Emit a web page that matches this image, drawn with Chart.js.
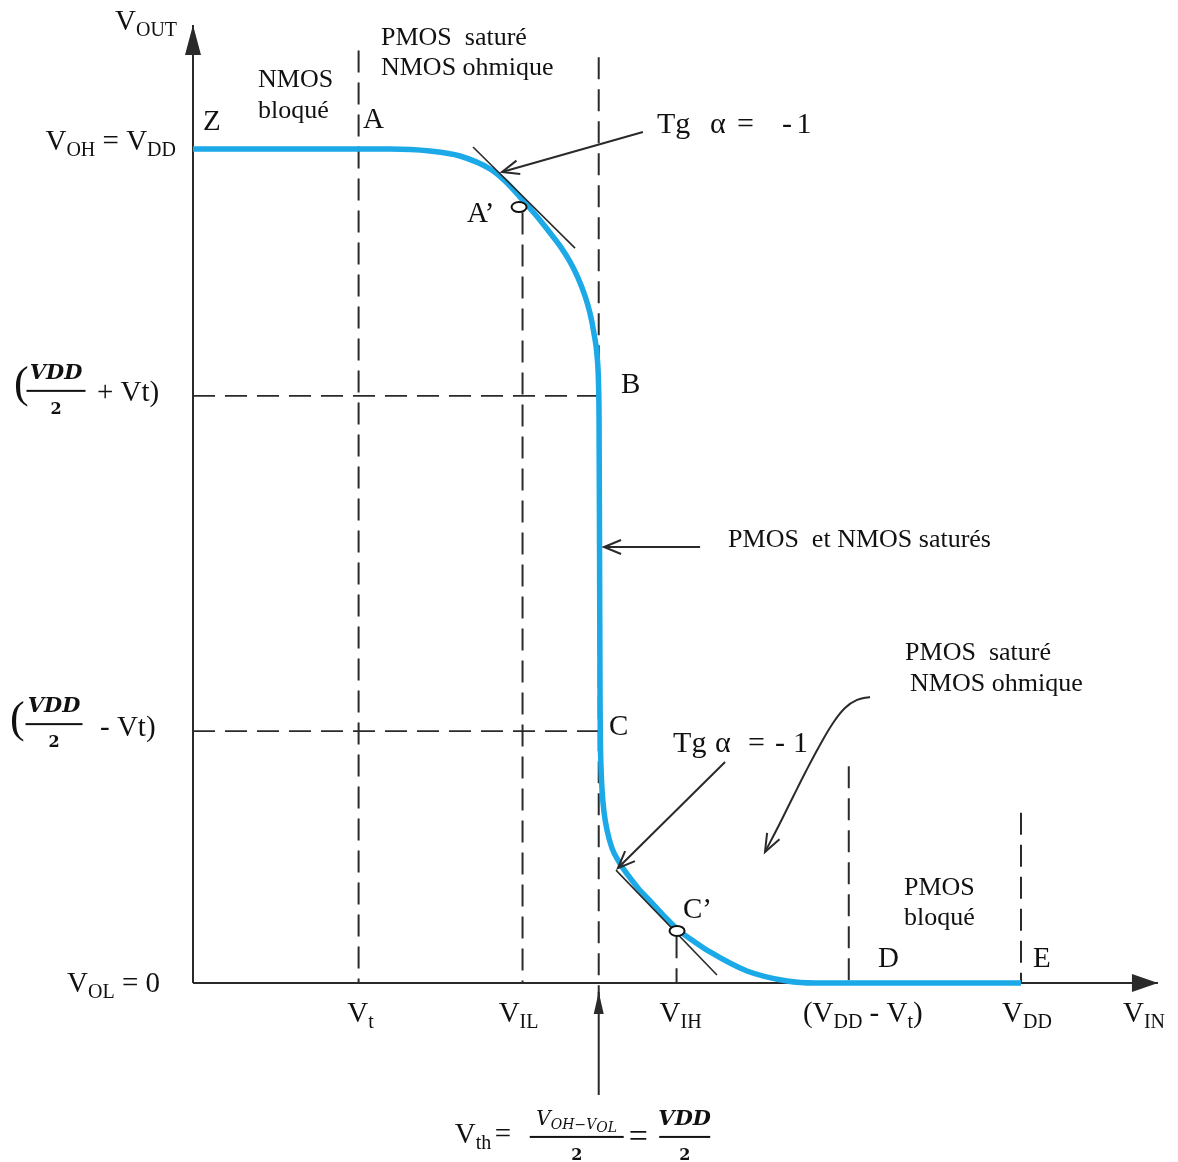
<!DOCTYPE html>
<html>
<head>
<meta charset="utf-8">
<script src="https://cdn.jsdelivr.net/npm/chart.js@4.4.1/dist/chart.umd.min.js"></script>
<style>
    html, body { margin: 0; padding: 0; background: #fff; }
    #wrap { width: 1178px; height: 1162px; }
</style>
</head>
<body>
<div id="wrap"><canvas id="vtcChart" width="1178" height="1162"></canvas></div>
<script>
// CMOS inverter transfer characteristic VOUT = f(VIN), VDD = 5

// marks on the VIN axis
const xTicks = [1.0, 1.99, 2.45, 2.92, 3.96, 5.0];
const xTickLabels = ['V_{t}', 'V_{IL}', '', 'V_{IH}', '(V_{DD} - V_{t})', 'V_{DD}'];
// VOUT where each vertical dashed marker starts
const xMarkTops = [5.59, 4.62, 5.55, 0.28, 1.30, 1.02];

// marks on the VOUT axis
const yTicks = [5.0, 3.52, 1.51, 0];

// transfer curve
const vin  = [0, 1.190, 1.431, 1.612, 1.794, 1.884, 1.975, 2.065, 2.138, 2.216,
              2.277, 2.325, 2.367, 2.397, 2.421, 2.440, 2.449, 2.452, 2.455, 2.458,
              2.460, 2.464, 2.470, 2.482, 2.500, 2.530, 2.573, 2.621, 2.687, 2.760,
              2.844, 2.923, 3.013, 3.122, 3.345, 3.587, 3.756, 5.0];
const vout = [5.0, 5.0, 4.988, 4.958, 4.880, 4.808, 4.712, 4.610, 4.520, 4.419,
              4.323, 4.227, 4.119, 4.017, 3.897, 3.759, 3.585, 3.375, 2.596, 1.697,
              1.457, 1.289, 1.157, 1.025, 0.917, 0.809, 0.725, 0.654, 0.570, 0.492,
              0.402, 0.324, 0.258, 0.186, 0.072, 0.012, 0, 0];

// tangents of slope -1 at A' and C'
const tangents = [
    [[1.691, 5.012], [2.307, 4.406]],
    [[2.554, 0.677], [3.164, 0.048]]
];
const markers = [[1.969, 4.652], [2.923, 0.312]];

// straight pointer arrows [from, to]
const arrows = [
    [[2.717, 5.102], [1.866, 4.862]],
    [[3.213, 1.325], [2.566, 0.689]],
    [[3.062, 2.614], [2.482, 2.614]]
];
// curved pointer for the lower "PMOS saturé" note
const curveArrowX = [4.088, 4.010, 3.937, 3.865, 3.786, 3.702, 3.623, 3.539, 3.454];
const curveArrowY = [1.715, 1.697, 1.649, 1.559, 1.427, 1.271, 1.115, 0.947, 0.785];
// Vth pointer below the axis
const vthArrow = [[2.45, -0.671], [2.45, -0.054]];

const axisTops = { x: 5.827, y: 5.743 };
const xRange = [-1.16546, 5.94807];
const yRange = [-1.07314, 5.89329];

const notes = [
    { text: 'V_{OUT}', x: -0.471, y: 5.713, size: 29 },
    { text: 'NMOS', x: 0.393, y: 5.372, size: 26 },
    { text: 'bloqué', x: 0.393, y: 5.186, size: 26 },
    { text: 'Z', x: 0.060, y: 5.114, size: 29 },
    { text: 'A', x: 1.027, y: 5.126, size: 29 },
    { text: 'PMOS  saturé', x: 1.135, y: 5.624, size: 26 },
    { text: 'NMOS ohmique', x: 1.135, y: 5.444, size: 26 },
    { text: 'Tg', x: 2.802, y: 5.096, size: 30 },
    { text: 'α', x: 3.122, y: 5.096, size: 30 },
    { text: '=', x: 3.285, y: 5.096, size: 30 },
    { text: '-', x: 3.557, y: 5.096, size: 30 },
    { text: '1', x: 3.645, y: 5.096, size: 30 },
    { text: 'A’', x: 1.655, y: 4.562, size: 29 },
    { text: 'B', x: 2.585, y: 3.537, size: 29 },
    { text: 'PMOS  et NMOS saturés', x: 3.231, y: 2.614, size: 26 },
    { text: 'C', x: 2.512, y: 1.487, size: 29 },
    { text: 'Tg', x: 2.899, y: 1.385, size: 30 },
    { text: 'α', x: 3.152, y: 1.385, size: 30 },
    { text: '=', x: 3.351, y: 1.385, size: 30 },
    { text: '-', x: 3.514, y: 1.385, size: 30 },
    { text: '1', x: 3.623, y: 1.385, size: 30 },
    { text: 'C’', x: 2.959, y: 0.390, size: 29 },
    { text: 'PMOS  saturé', x: 4.300, y: 1.936, size: 26 },
    { text: 'NMOS ohmique', x: 4.330, y: 1.751, size: 26 },
    { text: 'PMOS', x: 4.293, y: 0.528, size: 26 },
    { text: 'bloqué', x: 4.293, y: 0.348, size: 26 },
    { text: 'D', x: 4.137, y: 0.096, size: 29 },
    { text: 'E', x: 5.072, y: 0.096, size: 29 },
    { text: 'V_{IN}', x: 5.616, y: -0.234, size: 29 }
];

const SERIF = "'Liberation Serif', 'Times New Roman', serif";
const MATH = "'DejaVu Serif', 'Liberation Serif', serif";
const INK = '#111';
const LINE = '#2a2a2a';
const BLUE = '#1ba9e8';

function pts(xs, ys) {
    return xs.map((v, i) => ({ x: v, y: ys[i] }));
}

// dashed guides, segments split by gap points
const dashVert = [];
xTicks.forEach((t, i) => {
    const bottom = t === 2.45 ? -0.1 : 0;
    dashVert.push({ x: t, y: xMarkTops[i] }, { x: t, y: bottom }, { x: t, y: null });
});
const dashHoriz = [];
[yTicks[1], yTicks[2]].forEach(v => {
    dashHoriz.push({ x: 0, y: v }, { x: xTicks[2], y: v }, { x: 0, y: null });
});
const axisLines = [
    { x: 0, y: 0 }, { x: 0, y: axisTops.y }, { x: 0, y: null },
    { x: 0, y: 0 }, { x: axisTops.x, y: 0 }
];
const tangentLines = [];
tangents.forEach(t => tangentLines.push({ x: t[0][0], y: t[0][1] }, { x: t[1][0], y: t[1][1] }, { x: 0, y: null }));
const arrowLines = [];
arrows.concat([vthArrow]).forEach(a => arrowLines.push({ x: a[0][0], y: a[0][1] }, { x: a[1][0], y: a[1][1] }, { x: 0, y: null }));

// --- text helpers ---
function parseRich(str) {
    const out = [];
    const re = /_\{([^}]*)\}/g;
    let last = 0, m;
    while ((m = re.exec(str))) {
        if (m.index > last) out.push({ t: str.slice(last, m.index), sub: false });
        out.push({ t: m[1], sub: true });
        last = re.lastIndex;
    }
    if (last < str.length) out.push({ t: str.slice(last), sub: false });
    return out;
}

function drawRich(ctx, str, x, y, size, align) {
    const parts = parseRich(str);
    const subSize = Math.round(size * 0.68);
    let w = 0;
    parts.forEach(p => {
        ctx.font = `${p.sub ? subSize : size}px ${SERIF}`;
        p.w = ctx.measureText(p.t).width;
        w += p.w;
    });
    let cx = align === 'center' ? x - w / 2 : align === 'right' ? x - w : x;
    ctx.textAlign = 'left';
    ctx.textBaseline = 'alphabetic';
    parts.forEach(p => {
        ctx.font = `${p.sub ? subSize : size}px ${SERIF}`;
        ctx.fillText(p.t, cx, p.sub ? y + size * 0.2 : y);
        cx += p.w;
    });
    return w;
}

function drawFrac(ctx, num, den, cx, barY, barW) {
    ctx.textAlign = 'center';
    ctx.textBaseline = 'alphabetic';
    if (typeof num === 'string') {
        ctx.font = `italic bold 21px ${MATH}`;
        ctx.fillText(num, cx, barY - 12);
    } else {
        num(cx, barY - 12);
    }
    ctx.font = `bold 16px ${MATH}`;
    ctx.fillText(den, cx, barY + 23);
    ctx.fillRect(cx - barW / 2, barY - 1, barW, 2);
}

function arrowHead(ctx, x1, y1, x2, y2, len, half, filled) {
    const a = Math.atan2(y2 - y1, x2 - x1);
    const bx = x2 - len * Math.cos(a), by = y2 - len * Math.sin(a);
    const nx = -Math.sin(a) * half, ny = Math.cos(a) * half;
    ctx.beginPath();
    ctx.moveTo(bx + nx, by + ny);
    ctx.lineTo(x2, y2);
    ctx.lineTo(bx - nx, by - ny);
    if (filled) { ctx.closePath(); ctx.fill(); } else { ctx.stroke(); }
}

const xLabelNudge = [2, -4, 0, 4, 14, 6];

const overlay = {
    id: 'overlay',
    afterDatasetsDraw(chart) {
        const { ctx, scales: { x, y } } = chart;
        const px = v => x.getPixelForValue(v);
        const py = v => y.getPixelForValue(v);
        const ox = px(0), oy = py(0);
        ctx.save();

        // axis arrowheads
        ctx.fillStyle = LINE;
        arrowHead(ctx, ox, oy, ox, py(axisTops.y), 30, 8, true);
        arrowHead(ctx, ox, oy, px(axisTops.x), oy, 26, 9, true);
        // Vth pointer head
        arrowHead(ctx, px(vthArrow[0][0]), py(vthArrow[0][1]), px(vthArrow[1][0]), py(vthArrow[1][1]), 22, 5, true);

        // open heads of pointer arrows
        ctx.strokeStyle = LINE;
        ctx.lineWidth = 2;
        arrows.forEach(a => arrowHead(ctx, px(a[0][0]), py(a[0][1]), px(a[1][0]), py(a[1][1]), 17, 7, false));
        const n = curveArrowX.length;
        arrowHead(ctx, px(curveArrowX[n - 2]), py(curveArrowY[n - 2]), px(curveArrowX[n - 1]), py(curveArrowY[n - 1]), 18, 7, false);

        // A' and C' markers
        markers.forEach(m => {
            ctx.beginPath();
            ctx.ellipse(px(m[0]), py(m[1]), 7.5, 5, 0, 0, Math.PI * 2);
            ctx.fillStyle = '#fff';
            ctx.fill();
            ctx.lineWidth = 2;
            ctx.strokeStyle = '#111';
            ctx.stroke();
        });

        ctx.fillStyle = INK;
        // free notes
        notes.forEach(nt => drawRich(ctx, nt.text, px(nt.x), py(nt.y), nt.size, 'left'));

        // VIN tick labels
        xTickLabels.forEach((lab, i) => {
            if (lab) drawRich(ctx, lab, px(xTicks[i]) + xLabelNudge[i], oy + 39, 29, 'center');
        });

        // VOUT tick labels
        drawRich(ctx, 'V_{OH} = V_{DD}', ox - 17, py(yTicks[0]) + 1, 29, 'right');
        drawRich(ctx, 'V_{OL} = 0', ox - 33, oy + 9, 29, 'right');

        const yHi = py(yTicks[1]);
        ctx.font = `44px ${SERIF}`;
        ctx.textAlign = 'left';
        ctx.fillText('(', ox - 179, yHi + 1);
        drawFrac(ctx, 'VDD', '2', ox - 137, yHi - 5, 59);
        drawRich(ctx, '+ Vt)', ox - 96, yHi + 5, 29, 'left');

        const yLo = py(yTicks[2]);
        ctx.font = `44px ${SERIF}`;
        ctx.textAlign = 'left';
        ctx.fillText('(', ox - 183, yLo + 1);
        drawFrac(ctx, 'VDD', '2', ox - 139, yLo - 7, 57);
        drawRich(ctx, '- Vt)', ox - 93, yLo + 5, 29, 'left');

        // Vth = (VOH - VOL)/2 = VDD/2 below the pointer
        const sx = px(vthArrow[0][0]) - 144;
        const base = py(vthArrow[0][1]) + 48;
        drawRich(ctx, 'V_{th}', sx, base, 29, 'left');
        ctx.font = `29px ${SERIF}`;
        ctx.textAlign = 'left';
        ctx.fillText('=', sx + 40, base);
        drawFrac(ctx, (cx, by) => {
            const segs = [
                { t: 'V', f: `italic 20px ${MATH}`, dy: 0 },
                { t: 'OH−V', f: `italic 14px ${MATH}`, dy: 4 },
                { t: 'OL', f: `italic 14px ${MATH}`, dy: 7 }
            ];
            let w = 0;
            segs.forEach(s => { ctx.font = s.f; s.w = ctx.measureText(s.t).width; w += s.w; });
            let cur = cx - w / 2;
            ctx.textAlign = 'left';
            segs.forEach(s => { ctx.font = s.f; ctx.fillText(s.t, cur, by + s.dy); cur += s.w; });
            ctx.textAlign = 'center';
        }, '2', sx + 122, base - 6, 94);
        ctx.font = `34px ${SERIF}`;
        ctx.textAlign = 'left';
        ctx.fillText('=', sx + 174, base + 4);
        drawFrac(ctx, 'VDD', '2', sx + 230, base - 6, 51);

        ctx.restore();
    }
};

const ctx = document.getElementById('vtcChart').getContext('2d');
new Chart(ctx, {
    type: 'line',
    data: {
        datasets: [{
            label: 'pointer arrows',
            data: arrowLines,
            borderColor: LINE,
            borderWidth: 2,
            order: 1
        }, {
            label: 'curved pointer',
            data: pts(curveArrowX, curveArrowY),
            borderColor: LINE,
            borderWidth: 2,
            tension: 0.4,
            order: 1
        }, {
            label: 'tangents',
            data: tangentLines,
            borderColor: LINE,
            borderWidth: 1.6,
            order: 2
        }, {
            label: 'VOUT(VIN)',
            data: pts(vin, vout),
            borderColor: BLUE,
            borderWidth: 5.5,
            cubicInterpolationMode: 'monotone',
            order: 3
        }, {
            label: 'axes',
            data: axisLines,
            borderColor: LINE,
            borderWidth: 2,
            order: 4
        }, {
            label: 'vertical guides',
            data: dashVert,
            borderColor: LINE,
            borderWidth: 2,
            borderDash: [22, 10],
            order: 5
        }, {
            label: 'horizontal guides',
            data: dashHoriz,
            borderColor: LINE,
            borderWidth: 1.8,
            borderDash: [22, 10],
            order: 5
        }]
    },
    options: {
        responsive: false,
        animation: false,
        layout: { padding: 0 },
        elements: { point: { radius: 0, hoverRadius: 0 } },
        scales: {
            x: { type: 'linear', min: xRange[0], max: xRange[1], display: false },
            y: { type: 'linear', min: yRange[0], max: yRange[1], display: false }
        },
        plugins: {
            legend: { display: false },
            tooltip: { enabled: false }
        }
    },
    plugins: [overlay]
});
</script>
</body>
</html>
